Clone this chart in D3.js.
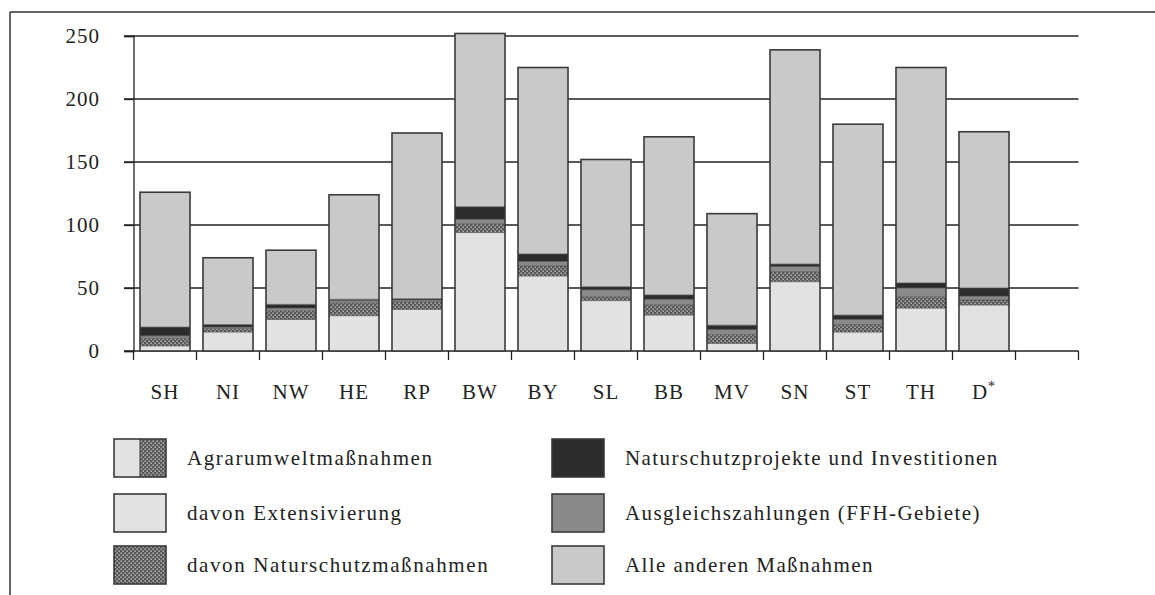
<!DOCTYPE html>
<html><head><meta charset="utf-8">
<script src="https://cdn.jsdelivr.net/npm/d3@7"></script>
<style>body{margin:0;background:#fff}svg{display:block}</style>
</head><body>
<svg id="c" width="1155" height="595"></svg>
<script>
const categories = ["SH","NI","NW","HE","RP","BW","BY","SL","BB","MV","SN","ST","TH","D*"];
const extensivierung   = [4, 15, 25, 28, 33, 94, 59.5, 40, 28.5, 6, 55, 15, 34, 36.5];
const naturschutzMass  = [6, 3, 7, 10, 6, 7, 8, 3, 8, 7, 8, 6, 9, 4];
const ausgleich        = [2, 1, 2, 2, 1.5, 3.5, 3.5, 5.5, 4.5, 4, 4, 4, 7, 3];
const projekte         = [7, 2, 3, 1, 1, 10, 6, 2.5, 3.5, 3.5, 2, 3.5, 4, 6.5];
const alleAnderen      = [107, 53, 43, 83, 131.5, 137.5, 148, 101, 125.5, 88.5, 170, 151.5, 171, 124];
const yTicks = [0, 50, 100, 150, 200, 250];
const seriesKeys = ["ext","nat","aus","proj","other"];
const legendLeft = ["Agrarumweltmaßnahmen","davon Extensivierung","davon Naturschutzmaßnahmen"];
const legendRight = ["Naturschutzprojekte und Investitionen","Ausgleichszahlungen (FFH-Gebiete)","Alle anderen Maßnahmen"];

const rows = categories.map((c,i)=>({cat:c, ext:extensivierung[i], nat:naturschutzMass[i], aus:ausgleich[i], proj:projekte[i], other:alleAnderen[i]}));

const svg = d3.select("#c");
const FONT = "'Liberation Serif', 'Times New Roman', serif";
const colors = {ext:"#e2e2e2", nat:"url(#dots)", aus:"#8a8a8a", proj:"#2c2c2c", other:"#c9c9c9"};
const stroke = "#3a3a3a";

// pattern
const defs = svg.append("defs");
const pat = defs.append("pattern").attr("id","dots").attr("patternUnits","userSpaceOnUse").attr("width",4).attr("height",4);
pat.append("rect").attr("width",4).attr("height",4).attr("fill","#585858");
pat.append("rect").attr("x",0.5).attr("y",0.5).attr("width",1.3).attr("height",1.3).attr("fill","#d4d4d4");
pat.append("rect").attr("x",2.5).attr("y",2.5).attr("width",1.3).attr("height",1.3).attr("fill","#d4d4d4");

// frame
svg.append("line").attr("x1",10).attr("x2",1155).attr("y1",12).attr("y2",12).attr("stroke","#333").attr("stroke-width",1.5);
svg.append("line").attr("x1",10).attr("x2",10).attr("y1",12).attr("y2",595).attr("stroke","#333").attr("stroke-width",1.5);

const x0 = 133.5, step = 63;
const x = d3.scaleBand().domain(categories).range([x0, x0 + step*categories.length]).paddingInner(0.206).paddingOuter(0.103);
const y = d3.scaleLinear().domain([0,250]).range([351,36]);
const xEnd = x0 + step*(categories.length+1);

// gridlines
svg.append("g").selectAll("line").data(yTicks.filter(d=>d>0)).join("line")
  .attr("x1",124).attr("x2",xEnd).attr("y1",d=>y(d)).attr("y2",d=>y(d))
  .attr("stroke","#222").attr("stroke-width",1.3);

// y axis
const yAxis = d3.axisLeft(y).tickValues(yTicks).tickSize(9.5).tickPadding(24).tickFormat(d3.format("d"));
const gy = svg.append("g").attr("transform",`translate(${x0},0)`).call(yAxis);
gy.select(".domain").attr("stroke","#222").attr("stroke-width",1.3);
gy.selectAll(".tick line").attr("stroke","#222").attr("stroke-width",1.3);
gy.selectAll(".tick text").attr("font-family",FONT).attr("font-size",21).attr("fill","#222").attr("letter-spacing",1);

// x axis baseline and ticks
svg.append("line").attr("x1",124).attr("x2",xEnd).attr("y1",y(0)).attr("y2",y(0)).attr("stroke","#222").attr("stroke-width",1.5);
svg.append("g").selectAll("line").data(d3.range(categories.length+2)).join("line")
  .attr("x1",i=>x0+i*step).attr("x2",i=>x0+i*step).attr("y1",y(0)).attr("y2",y(0)+9)
  .attr("stroke","#222").attr("stroke-width",1.3);

// stacked bars
const stack = d3.stack().keys(seriesKeys)(rows);
svg.append("g").selectAll("g").data(stack).join("g")
  .attr("fill",d=>colors[d.key])
  .selectAll("rect").data(d=>d).join("rect")
  .attr("x",d=>x(d.data.cat)).attr("width",x.bandwidth())
  .attr("y",d=>y(d[1])).attr("height",d=>y(d[0])-y(d[1]));
// thin separators between segments
svg.append("g").selectAll("g").data(stack.slice(0,4)).join("g")
  .selectAll("line").data(d=>d).join("line")
  .attr("x1",d=>x(d.data.cat)).attr("x2",d=>x(d.data.cat)+x.bandwidth())
  .attr("y1",d=>y(d[1])).attr("y2",d=>y(d[1]))
  .attr("stroke","#555").attr("stroke-width",0.7);
// bar outlines
svg.append("g").selectAll("rect").data(rows).join("rect")
  .attr("x",d=>x(d.cat)).attr("width",x.bandwidth())
  .attr("y",d=>y(d.ext+d.nat+d.aus+d.proj+d.other))
  .attr("height",d=>y(0)-y(d.ext+d.nat+d.aus+d.proj+d.other))
  .attr("fill","none").attr("stroke",stroke).attr("stroke-width",1.6);

// x labels
const xl = svg.append("g").selectAll("text").data(categories).join("text")
  .attr("x",d=>x(d)+x.bandwidth()/2).attr("y",399)
  .attr("text-anchor","middle").attr("font-family",FONT).attr("font-size",21).attr("fill","#222").attr("letter-spacing",1);
xl.each(function(d){
  const t = d3.select(this);
  if (d.endsWith("*")) {
    t.append("tspan").text(d.slice(0,-1));
    t.append("tspan").text("*").attr("font-size",14).attr("dy",-8);
  } else t.text(d);
});

// legend
function patch(g, px, py, kind){
  const w=52, h=38;
  if (kind==="agrar"){
    g.append("rect").attr("x",px).attr("y",py).attr("width",w/2).attr("height",h).attr("fill",colors.ext);
    g.append("rect").attr("x",px+w/2).attr("y",py).attr("width",w/2).attr("height",h).attr("fill",colors.nat);
    g.append("line").attr("x1",px+w/2).attr("x2",px+w/2).attr("y1",py).attr("y2",py+h).attr("stroke",stroke).attr("stroke-width",1);
  } else {
    g.append("rect").attr("x",px).attr("y",py).attr("width",w).attr("height",h).attr("fill",colors[kind]);
  }
  g.append("rect").attr("x",px).attr("y",py).attr("width",w).attr("height",h).attr("fill","none").attr("stroke",stroke).attr("stroke-width",1.6);
}
const lg = svg.append("g");
const rowY = [439, 494, 546];
const leftKinds = ["agrar","ext","nat"], rightKinds = ["proj","aus","other"];
legendLeft.forEach((t,i)=>{
  patch(lg, 114, rowY[i], leftKinds[i]);
  lg.append("text").attr("x",187).attr("y",rowY[i]+26).text(t)
    .attr("font-family",FONT).attr("font-size",21).attr("fill","#222").attr("letter-spacing",1.6);
});
legendRight.forEach((t,i)=>{
  patch(lg, 552, rowY[i], rightKinds[i]);
  lg.append("text").attr("x",625).attr("y",rowY[i]+26).text(t)
    .attr("font-family",FONT).attr("font-size",21).attr("fill","#222").attr("letter-spacing",1.4);
});
</script>
</body></html>
